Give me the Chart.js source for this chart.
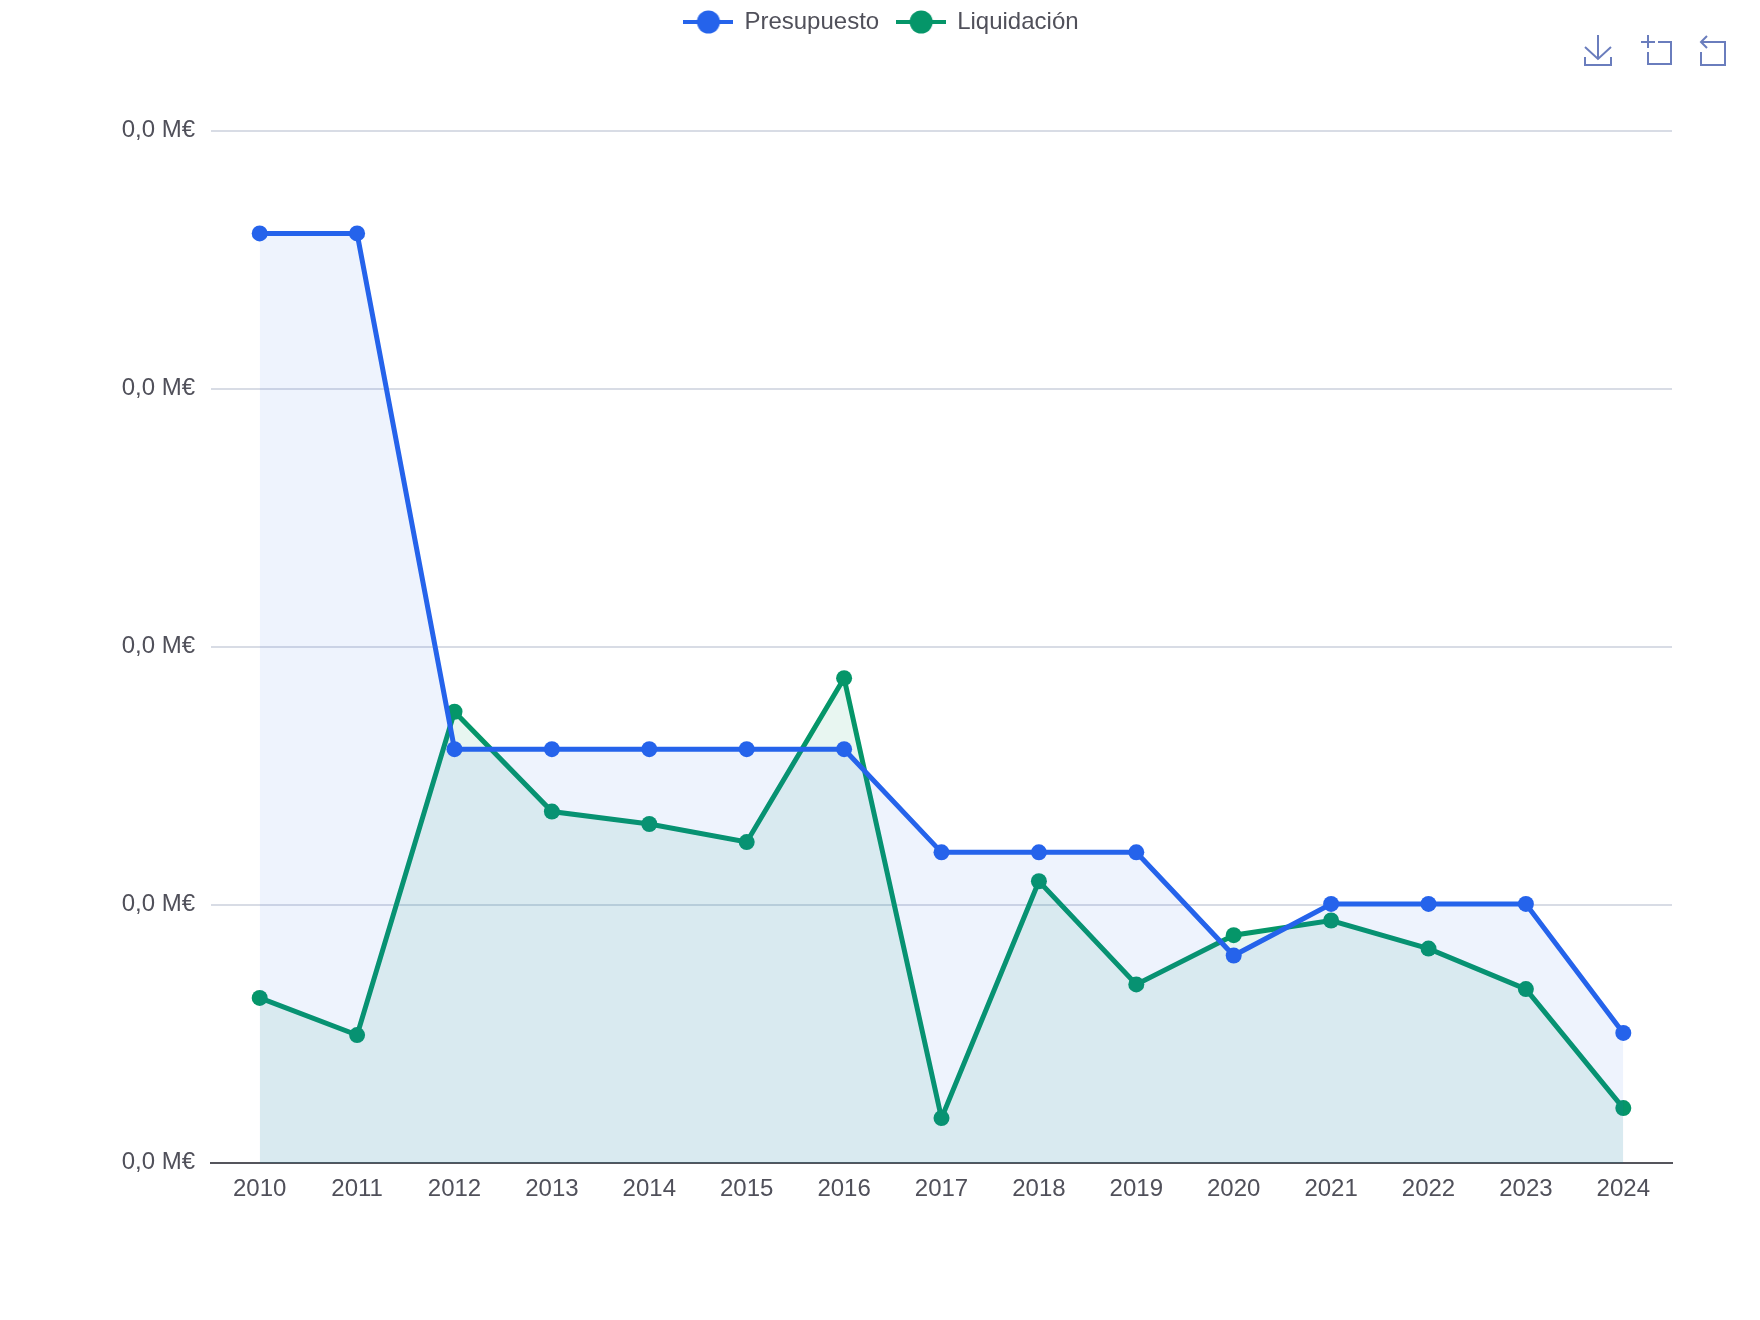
<!DOCTYPE html>
<html>
<head>
<meta charset="utf-8">
<title>Presupuesto y liquidación</title>
<script src="https://cdn.jsdelivr.net/npm/chart.js@4"></script>
<style>
    html, body { margin: 0; padding: 0; background: #fff; }
    #wrap { width: 1760px; height: 1320px; }
</style>
</head>
<body>
<div id="wrap"><canvas id="myChart"></canvas></div>
<script>
const years = ["2010", "2011", "2012", "2013", "2014", "2015", "2016", "2017", "2018", "2019", "2020", "2021", "2022", "2023", "2024"];
const presupuesto = [36030, 36030, 16040, 16040, 16040, 16040, 16040, 12040, 12040, 12040, 8040, 10040, 10040, 10040, 5040];
const liquidacion = [6400, 4960, 17490, 13620, 13140, 12440, 18790, 1740, 10920, 6920, 8830, 9400, 8310, 6740, 2130];
const yTicks = [0, 10000, 20000, 30000, 40000];

const textColor = "#50505a";
const blue = "#2563eb";
const green = "#059669";
const iconColor = "#6a7dbd";

function formatMillions(value) {
    return (value / 1000000).toFixed(1).replace(".", ",") + " M€";
}

// legend symbol: a short line with a dot in the middle
function legendIcon(color) {
    let c = document.createElement("canvas");
    c.width = 50;
    c.height = 24;
    let g = c.getContext("2d");
    g.fillStyle = color;
    g.fillRect(0, 10, 50, 4);
    g.beginPath();
    g.arc(25, 12, 11.5, 0, Math.PI * 2);
    g.fill();
    return c;
}

// keep the legend at the very top, centred on the page
const legendPlacement = {
    id: "legendPlacement",
    afterLayout(chart) {
        chart.legend.top = -8;
        chart.legend.left = 0;
        chart.legend.right = 1763;
    }
};

// save / zoom / restore icons at the top right corner
const toolbox = {
    id: "toolbox",
    afterDraw(chart) {
        let g = chart.ctx;
        g.save();
        g.strokeStyle = iconColor;
        g.lineWidth = 2;
        g.beginPath();
        g.moveTo(1598, 35); g.lineTo(1598, 59);
        g.moveTo(1585, 47); g.lineTo(1598, 59); g.lineTo(1611, 47);
        g.moveTo(1585, 57); g.lineTo(1585, 65); g.lineTo(1611, 65); g.lineTo(1611, 57);

        g.moveTo(1641, 42); g.lineTo(1655, 42);
        g.moveTo(1648, 35); g.lineTo(1648, 48);
        g.moveTo(1658, 42); g.lineTo(1671, 42); g.lineTo(1671, 64); g.lineTo(1648, 64); g.lineTo(1648, 52);

        g.moveTo(1707, 36); g.lineTo(1701, 42); g.lineTo(1707, 48);
        g.moveTo(1701, 42); g.lineTo(1725, 42); g.lineTo(1725, 65); g.lineTo(1701, 65); g.lineTo(1701, 52);
        g.stroke();
        g.restore();
    }
};

function lineDataset(label, data, color, fill) {
    return {
        label: label,
        data: data,
        borderColor: color,
        backgroundColor: fill,
        pointBackgroundColor: color,
        pointBorderColor: color,
        pointRadius: 8,
        pointHoverRadius: 8,
        pointBorderWidth: 0,
        borderWidth: 5,
        tension: 0,
        fill: "origin"
    };
}

new Chart(document.getElementById("myChart"), {
    type: "line",
    data: {
        labels: years,
        datasets: [
            lineDataset("Presupuesto", presupuesto, blue, "rgba(37, 99, 235, 0.08)"),
            lineDataset("Liquidación", liquidacion, green, "rgba(5, 150, 105, 0.09)")
        ]
    },
    plugins: [legendPlacement, toolbox],
    options: {
        responsive: true,
        maintainAspectRatio: false,
        animation: false,
        layout: {
            padding: { top: 79, left: 0, right: 88, bottom: 0 }
        },
        plugins: {
            tooltip: { enabled: false },
            legend: {
                position: "top",
                labels: {
                    usePointStyle: true,
                    pointStyleWidth: 48,
                    padding: 18,
                    color: textColor,
                    font: { family: "'Liberation Sans'", size: 24 },
                    generateLabels(chart) {
                        return chart.data.datasets.map((ds, i) => ({
                            text: ds.label,
                            datasetIndex: i,
                            fontColor: textColor,
                            lineWidth: 0,
                            pointStyle: legendIcon(ds.borderColor)
                        }));
                    }
                }
            }
        },
        scales: {
            x: {
                offset: true,
                grid: { display: false, drawTicks: false },
                border: { color: "#55555c", width: 2 },
                ticks: {
                    color: textColor,
                    padding: 12,
                    maxRotation: 0,
                    autoSkip: false,
                    font: { family: "'Liberation Sans'", size: 24 }
                },
                afterFit(scale) {
                    scale.height = 157;
                }
            },
            y: {
                min: 0,
                max: 40000,
                afterBuildTicks(scale) {
                    scale.ticks = yTicks.map(v => ({ value: v }));
                },
                grid: { color: "#d8dce5", lineWidth: 2, drawTicks: false },
                border: { display: false },
                ticks: {
                    color: textColor,
                    padding: 16,
                    labelOffset: -1,
                    callback: formatMillions,
                    font: { family: "'Liberation Sans'", size: 24 }
                },
                afterFit(scale) {
                    scale.width = 211;
                }
            }
        }
    }
});
</script>
</body>
</html>
